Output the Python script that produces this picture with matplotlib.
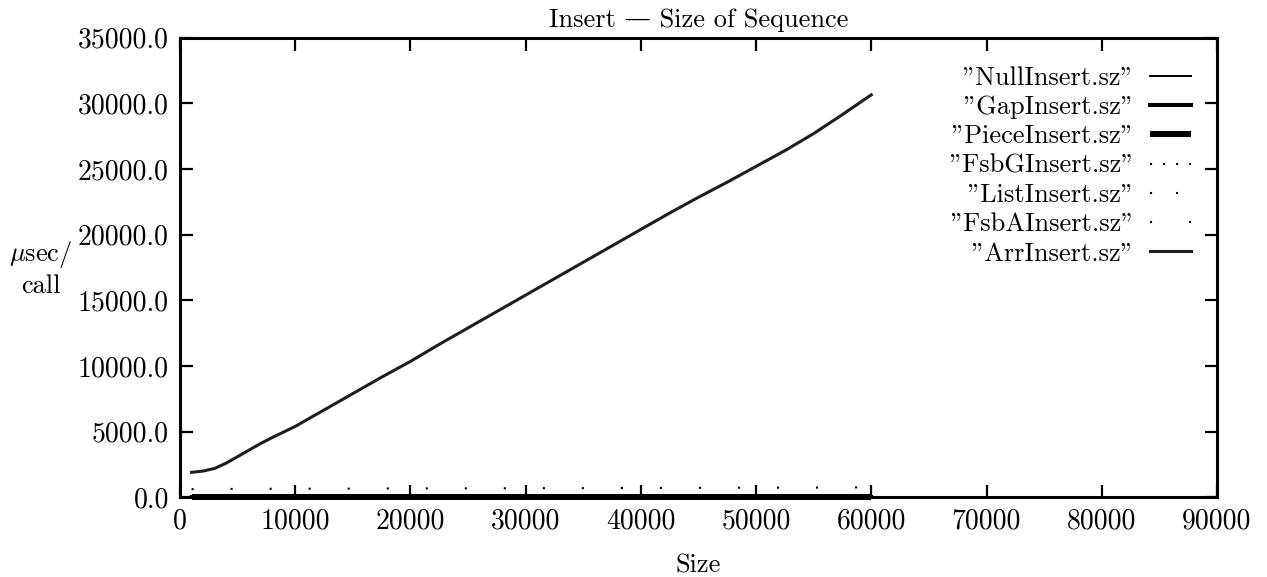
import numpy as np
import matplotlib
matplotlib.use("Agg")
import matplotlib.pyplot as plt

plt.rcParams['font.family'] = ['cmr10', 'DejaVu Serif']
plt.rcParams['mathtext.fontset'] = 'cm'
plt.rcParams['lines.scale_dashes'] = False

# sizes of the sequence (x values)
sizes = [1000, 2000, 3000, 4000, 5000, 6000, 7000, 8000, 10000, 12500,
         15000, 17500, 20000, 22500, 25000, 27500, 30000, 32500, 35000,
         37500, 40000, 42500, 45000, 47500, 50000, 52500, 55000, 57500, 60000]

# usec per call
arr_insert = [1900, 2000, 2200, 2600, 3100, 3600, 4100, 4550, 5400, 6650,
              7900, 9150, 10350, 11650, 12900, 14150, 15400, 16650, 17900,
              19150, 20400, 21650, 22850, 24000, 25200, 26400, 27700, 29150, 30650]
null_insert = [5] * len(sizes)
gap_insert = [10] * len(sizes)
piece_insert = [15] * len(sizes)
fsbg_insert = [60] * len(sizes)
list_insert = [120] * len(sizes)
fsba_insert = [620, 630, 630, 640, 640, 640, 650, 650, 650, 660, 660, 670,
               670, 680, 680, 690, 690, 700, 700, 710, 710, 720, 720, 730,
               730, 740, 740, 750, 760]

labels = ['"NullInsert.sz"', '"GapInsert.sz"', '"PieceInsert.sz"',
          '"FsbGInsert.sz"', '"ListInsert.sz"', '"FsbAInsert.sz"',
          '"ArrInsert.sz"']

fig = plt.figure(figsize=(12.67, 5.77), dpi=100)
ax = fig.add_axes([0.1421, 0.1381, 0.8184, 0.7966])

ax.plot(sizes, null_insert, color='black', lw=1.4, label=labels[0])
ax.plot(sizes, gap_insert, color='black', lw=2.9, label=labels[1])
ax.plot(sizes, piece_insert, color='black', lw=4.3, solid_capstyle='butt',
        clip_on=False, label=labels[2])
ax.plot(sizes, fsbg_insert, color='black', lw=1.5, linestyle=(0, (1.5, 7.9)),
        dash_capstyle='butt', label=labels[3])
ax.plot(sizes, list_insert, color='black', lw=1.5, linestyle=(0, (1.5, 17.2)),
        dash_capstyle='butt', label=labels[4])
ax.plot(sizes, fsba_insert, color='black', lw=1.5, linestyle=(0, (1.5, 26.6)),
        dash_capstyle='butt', label=labels[5])
ax.plot(sizes, arr_insert, color='#1e1e1e', lw=2.2, label=labels[6])

ax.set_xlim(0, 90000)
ax.set_ylim(0, 35000)
ax.set_xticks(np.arange(0, 90001, 10000))
ax.set_yticks(np.arange(0, 35001, 5000))
ax.set_yticklabels([f"{v:.1f}" for v in np.arange(0, 35001, 5000)])

for s in ax.spines.values():
    s.set_linewidth(2.2)
ax.tick_params(direction='in', length=9, width=1.6, top=True, right=True,
               labelsize=20, pad=8)

ax.set_title('Insert — Size of Sequence', fontsize=19, pad=8)
ax.set_xlabel('Size', fontsize=19, labelpad=14)
fig.text(0.032, 0.535, r'$\mu$sec/' + '\ncall', fontsize=19, ha='center',
         va='center', linespacing=1.2)

ax.legend(loc='upper right', bbox_to_anchor=(0.975, 0.938), frameon=False,
          markerfirst=False, fontsize=19, handlelength=1.55, handletextpad=0.6,
          labelspacing=0.21, borderpad=0, borderaxespad=0)

fig.savefig('out.png', dpi=100)
